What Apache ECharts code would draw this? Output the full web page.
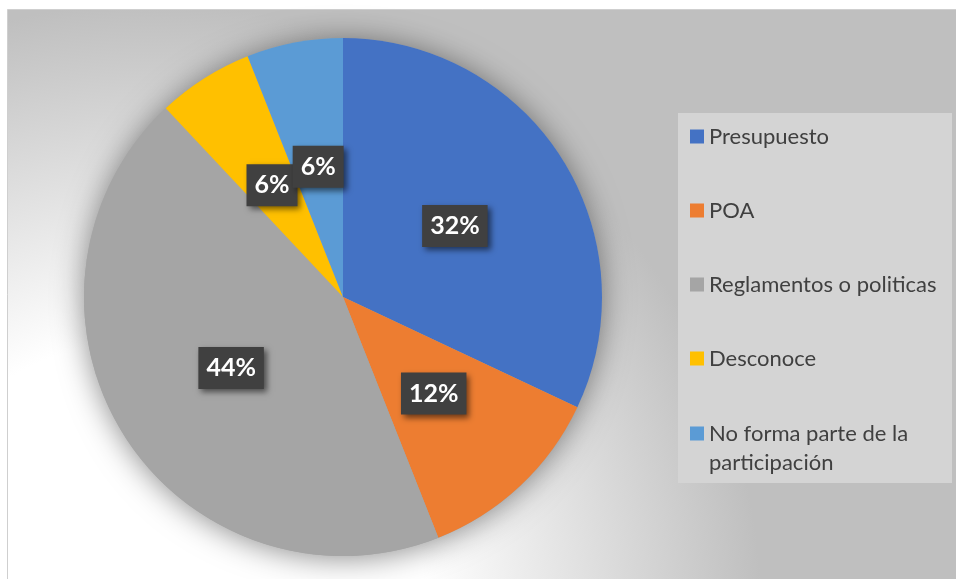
<!DOCTYPE html>
<html>
<head>
<meta charset="utf-8">
<script src="https://cdn.jsdelivr.net/npm/echarts@6/dist/echarts.min.js"></script>
<style>
html,body{margin:0;padding:0;background:#fff;}
#chart{width:956px;height:579px;}
</style>
</head>
<body>
<div id="chart"></div>
<script>
const categories = ['Presupuesto', 'POA', 'Reglamentos o politicas', 'Desconoce', 'No forma parte de la participación'];
const values = [32, 12, 44, 6, 6];
const colors = ['#4472c4', '#ed7d31', '#a5a5a5', '#ffc000', '#5b9bd5'];

const FONT = 'Lato';
const center = [343, 297];
const radius = 259;

const pieData = categories.map((c, i) => ({ name: c, value: values[i], itemStyle: { color: colors[i] } }));

const chart = echarts.init(document.getElementById('chart'));
chart.setOption({
  animation: false,
  backgroundColor: '#ffffff',
  graphic: [
    {
      type: 'rect', z: -10, silent: true,
      shape: { x: 7.5, y: 9.5, width: 960, height: 580 },
      style: {
        fill: {
          type: 'radial', x: 0.15, y: 1.04, r: 1.05,
          colorStops: [
            { offset: 0, color: '#ffffff' },
            { offset: 0.45, color: '#ffffff' },
            { offset: 1, color: '#bfbfbf' }
          ]
        },
        stroke: '#cfcfcf', lineWidth: 1
      }
    },
    {
      type: 'rect', z: -5, silent: true,
      shape: { x: 678, y: 113, width: 274, height: 370 },
      style: { fill: '#d4d4d4' }
    }
  ],
  legend: [
    {
      data: categories.slice(0, 4),
      orient: 'vertical',
      left: 690, top: 122,
      padding: 0,
      itemGap: 45,
      itemWidth: 14, itemHeight: 14,
      icon: 'rect',
      selectedMode: false,
      textStyle: { fontFamily: FONT, fontSize: 22, lineHeight: 29, color: '#404040' }
    },
    {
      data: categories.slice(4),
      orient: 'vertical',
      left: 690, top: 390,
      padding: 0,
      itemWidth: 14, itemHeight: 14,
      icon: 'rect',
      selectedMode: false,
      formatter: function (n) { return ' \nNo forma parte de la\nparticipación'; },
      textStyle: { fontFamily: FONT, fontSize: 22, lineHeight: 29, color: '#404040' }
    }
  ],
  series: [
    {
      type: 'pie',
      name: 'backing',
      silent: true,
      center: center,
      radius: radius,
      label: { show: false },
      labelLine: { show: false },
      itemStyle: { color: '#a5a5a5', shadowBlur: 30, shadowColor: 'rgba(0,0,0,0.45)', shadowOffsetX: 0, shadowOffsetY: 2 },
      data: [{ name: '_bg', value: 1 }],
      emphasis: { disabled: true }
    },
    {
      type: 'pie',
      name: 'main',
      center: center,
      radius: radius,
      startAngle: 90,
      clockwise: true,
      avoidLabelOverlap: false,
      labelLayout: { hideOverlap: false },
      itemStyle: { borderWidth: 0 },
      emphasis: { disabled: true },
      label: {
        show: true,
        position: 'inside',
        formatter: function (p) { return p.value + '%'; },
        color: '#ffffff',
        fontFamily: FONT,
        fontWeight: 'bold',
        fontSize: 25,
        lineHeight: 27,
        backgroundColor: '#404040',
        padding: [8, 8, 7, 8],
        shadowColor: 'rgba(0,0,0,0.55)',
        shadowBlur: 6,
        shadowOffsetX: 3,
        shadowOffsetY: 3
      },
      labelLine: { show: false },
      data: pieData
    }
  ]
});
</script>
</body>
</html>
